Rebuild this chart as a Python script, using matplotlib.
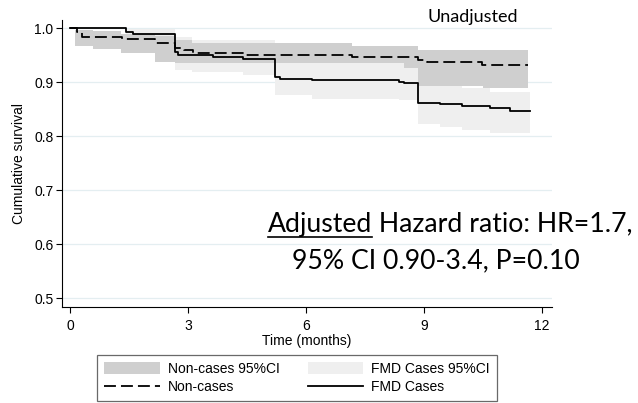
import matplotlib
matplotlib.use("Agg")
import matplotlib.pyplot as plt
from matplotlib.patches import Patch
from matplotlib.lines import Line2D

# Kaplan-Meier estimates (months, survival)
nc_t = [0, 0.17, 0.30, 1.31, 2.16, 2.67, 2.90, 3.13, 4.45, 7.16, 8.85, 9.07, 10.47, 11.65]
nc_s = [1.0, 0.994, 0.984, 0.980, 0.972, 0.963, 0.960, 0.955, 0.950, 0.946, 0.942, 0.938, 0.932, 0.932]

fmd_t = [0, 1.42, 1.61, 2.67, 2.75, 3.63, 4.40, 5.20, 5.35, 6.14, 8.37, 8.50, 8.84, 9.40, 9.96, 10.68, 11.19, 11.70]
fmd_s = [1.0, 0.994, 0.9895, 0.957, 0.951, 0.9475, 0.944, 0.910, 0.907, 0.904, 0.901, 0.898, 0.862, 0.859, 0.856, 0.852, 0.847, 0.847]

# 95% confidence bands
nc_ci_t = [0.13, 0.58, 1.30, 2.16, 2.67, 3.10, 7.16, 8.50, 8.85, 10.50, 11.65]
nc_upper = [0.997, 0.995, 0.990, 0.985, 0.978, 0.973, 0.967, 0.967, 0.960, 0.960, 0.960]
nc_lower = [0.968, 0.962, 0.954, 0.938, 0.935, 0.935, 0.935, 0.926, 0.894, 0.889, 0.889]

fmd_ci_t = [1.42, 2.67, 3.10, 4.40, 5.20, 6.14, 8.37, 8.84, 9.40, 9.96, 10.68, 11.70]
fmd_upper = [0.999, 0.984, 0.978, 0.978, 0.940, 0.940, 0.940, 0.895, 0.895, 0.890, 0.882, 0.882]
fmd_lower = [0.965, 0.923, 0.920, 0.913, 0.876, 0.870, 0.867, 0.822, 0.818, 0.812, 0.806, 0.806]

xticks = [0, 3, 6, 9, 12]
yticks = [0.5, 0.6, 0.7, 0.8, 0.9, 1.0]

W, H = 638, 403
DARK = "#cfcfcf"
LIGHT = "#efefef"
DASH = (6.6, 2.8)

plt.rcParams['font.family'] = ['Liberation Sans', 'DejaVu Sans']

fig = plt.figure(figsize=(W / 100, H / 100), dpi=100)
ax = fig.add_axes([61.7 / W, 1 - 307 / H, (552 - 61.7) / W, (307 - 20) / H])

def px(x, y):
    return x / W, 1 - y / H

for y in yticks:
    ax.axhline(y, color="#e4eef1", lw=0.9, zorder=0)

ax.fill_between(fmd_ci_t, fmd_lower, fmd_upper, step="post", color=LIGHT, lw=0, zorder=1)
ax.fill_between(nc_ci_t, nc_lower, nc_upper, step="post", color=DARK, lw=0, zorder=2)

ax.step(nc_t, nc_s, where="post", color="black", lw=1.3, dashes=DASH, zorder=3)
ax.step(fmd_t, fmd_s, where="post", color="black", lw=1.3, zorder=4)

ax.set_xlim(-0.21, 12.25)
ax.set_ylim(0.484, 1.0154)
ax.set_xticks(xticks)
ax.set_yticks(yticks)
ax.set_yticklabels(["%.1f" % v for v in yticks])
ax.tick_params(axis="both", labelsize=10, length=4, width=0.8, direction="out")
ax.tick_params(axis="x", pad=5)
ax.tick_params(axis="y", pad=2)
for s in ["top", "right"]:
    ax.spines[s].set_visible(False)
for s in ["left", "bottom"]:
    ax.spines[s].set_linewidth(0.8)
ax.set_xlabel("Time (months)", fontsize=10, labelpad=0.5)
ax.set_ylabel("Cumulative survival", fontsize=10, labelpad=6)

handles = [
    Patch(facecolor=DARK, edgecolor="none", label="Non-cases 95%CI"),
    Line2D([], [], color="black", lw=1.3, dashes=DASH, label="Non-cases"),
    Patch(facecolor=LIGHT, edgecolor="none", label="FMD Cases 95%CI"),
    Line2D([], [], color="black", lw=1.3, label="FMD Cases"),
]
leg = fig.legend(handles=handles, ncol=2, loc="center", bbox_to_anchor=px(297, 378),
                 fontsize=10, frameon=True, fancybox=False, edgecolor="#444444",
                 handlelength=4.0, handleheight=1.0, handletextpad=0.6,
                 columnspacing=2.0, labelspacing=0.3, borderpad=0.5)
leg.get_frame().set_linewidth(0.9)

# annotations (Calibri-like text)
afont = ['Lato', 'DejaVu Sans']
fig.text(*px(428, 21.7), "Unadjusted", family=afont, fontsize=13, va="baseline")

r = fig.canvas.get_renderer()
size = 20
probe = fig.text(0, 0, "Adjusted Hazard ratio: HR=1.7,", family=afont, fontsize=size)
wpx = probe.get_window_extent(r).width
probe.remove()
size = size * 365 / wpx

x0 = 268
t1 = fig.text(*px(x0, 231.7), "Adjusted", family=afont, fontsize=size, va="baseline")
bb = t1.get_window_extent(r)
fig.text(bb.x1 / W, 1 - 231.7 / H, " Hazard ratio: HR=1.7,", family=afont, fontsize=size, va="baseline")
fig.add_artist(Line2D([bb.x0 / W, bb.x1 / W], [1 - 236.7 / H, 1 - 236.7 / H],
                      color="black", lw=1.2, transform=fig.transFigure))
fig.text(*px(292, 268.3), "95% CI 0.90-3.4, P=0.10", family=afont, fontsize=size, va="baseline")

fig.savefig("out.png", dpi=100)
